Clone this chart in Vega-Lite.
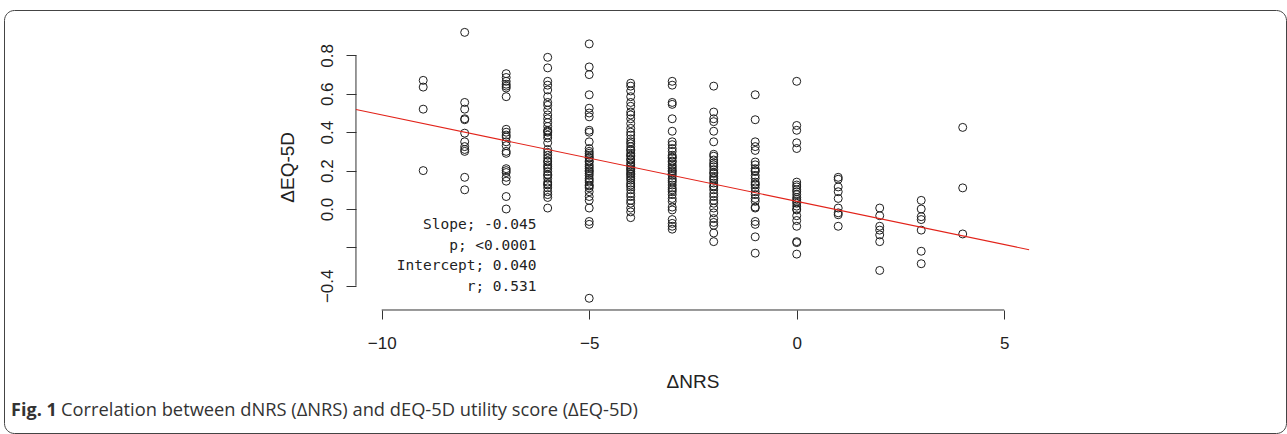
{
"$schema": "https://vega.github.io/schema/vega-lite/v6.json",
"width": 1282, "height": 423,
"autosize": {"type": "none"},
"padding": {"left": 4, "top": 10, "right": 1, "bottom": 1},
"background": "white",
"config": {"view": {"stroke": "#444", "strokeWidth": 1, "cornerRadius": 10}},
"layer": [
{
"data": {"values": [
{"dNRS":-9,"dEQ5D":0.67},{"dNRS":-9,"dEQ5D":0.635},{"dNRS":-9,"dEQ5D":0.52},{"dNRS":-9,"dEQ5D":0.2},
{"dNRS":-8,"dEQ5D":0.92},{"dNRS":-8,"dEQ5D":0.555},{"dNRS":-8,"dEQ5D":0.52},{"dNRS":-8,"dEQ5D":0.47},{"dNRS":-8,"dEQ5D":0.465},{"dNRS":-8,"dEQ5D":0.395},{"dNRS":-8,"dEQ5D":0.35},{"dNRS":-8,"dEQ5D":0.325},{"dNRS":-8,"dEQ5D":0.31},{"dNRS":-8,"dEQ5D":0.30},{"dNRS":-8,"dEQ5D":0.165},{"dNRS":-8,"dEQ5D":0.10},
{"dNRS":-7,"dEQ5D":0.705},{"dNRS":-7,"dEQ5D":0.685},{"dNRS":-7,"dEQ5D":0.665},{"dNRS":-7,"dEQ5D":0.65},{"dNRS":-7,"dEQ5D":0.64},{"dNRS":-7,"dEQ5D":0.63},{"dNRS":-7,"dEQ5D":0.585},{"dNRS":-7,"dEQ5D":0.415},{"dNRS":-7,"dEQ5D":0.40},{"dNRS":-7,"dEQ5D":0.385},{"dNRS":-7,"dEQ5D":0.375},{"dNRS":-7,"dEQ5D":0.35},{"dNRS":-7,"dEQ5D":0.33},{"dNRS":-7,"dEQ5D":0.30},{"dNRS":-7,"dEQ5D":0.29},{"dNRS":-7,"dEQ5D":0.21},{"dNRS":-7,"dEQ5D":0.20},{"dNRS":-7,"dEQ5D":0.19},{"dNRS":-7,"dEQ5D":0.165},{"dNRS":-7,"dEQ5D":0.145},{"dNRS":-7,"dEQ5D":0.065},{"dNRS":-7,"dEQ5D":0.0},
{"dNRS":-6,"dEQ5D":0.79},{"dNRS":-6,"dEQ5D":0.735},{"dNRS":-6,"dEQ5D":0.665},{"dNRS":-6,"dEQ5D":0.645},{"dNRS":-6,"dEQ5D":0.62},{"dNRS":-6,"dEQ5D":0.585},{"dNRS":-6,"dEQ5D":0.555},{"dNRS":-6,"dEQ5D":0.54},{"dNRS":-6,"dEQ5D":0.515},{"dNRS":-6,"dEQ5D":0.49},{"dNRS":-6,"dEQ5D":0.47},{"dNRS":-6,"dEQ5D":0.45},{"dNRS":-6,"dEQ5D":0.43},{"dNRS":-6,"dEQ5D":0.41},{"dNRS":-6,"dEQ5D":0.40},{"dNRS":-6,"dEQ5D":0.385},{"dNRS":-6,"dEQ5D":0.37},{"dNRS":-6,"dEQ5D":0.345},{"dNRS":-6,"dEQ5D":0.31},{"dNRS":-6,"dEQ5D":0.295},{"dNRS":-6,"dEQ5D":0.28},{"dNRS":-6,"dEQ5D":0.265},{"dNRS":-6,"dEQ5D":0.245},{"dNRS":-6,"dEQ5D":0.23},{"dNRS":-6,"dEQ5D":0.21},{"dNRS":-6,"dEQ5D":0.195},{"dNRS":-6,"dEQ5D":0.175},{"dNRS":-6,"dEQ5D":0.16},{"dNRS":-6,"dEQ5D":0.14},{"dNRS":-6,"dEQ5D":0.125},{"dNRS":-6,"dEQ5D":0.11},{"dNRS":-6,"dEQ5D":0.09},{"dNRS":-6,"dEQ5D":0.075},{"dNRS":-6,"dEQ5D":0.06},{"dNRS":-6,"dEQ5D":0.005},{"dNRS":-6,"dEQ5D":0.405},{"dNRS":-6,"dEQ5D":0.25},{"dNRS":-6,"dEQ5D":0.22},{"dNRS":-6,"dEQ5D":0.18},{"dNRS":-6,"dEQ5D":0.13},
{"dNRS":-5,"dEQ5D":0.86},{"dNRS":-5,"dEQ5D":0.74},{"dNRS":-5,"dEQ5D":0.70},{"dNRS":-5,"dEQ5D":0.595},{"dNRS":-5,"dEQ5D":0.525},{"dNRS":-5,"dEQ5D":0.50},{"dNRS":-5,"dEQ5D":0.48},{"dNRS":-5,"dEQ5D":0.41},{"dNRS":-5,"dEQ5D":0.40},{"dNRS":-5,"dEQ5D":0.35},{"dNRS":-5,"dEQ5D":0.315},{"dNRS":-5,"dEQ5D":0.30},{"dNRS":-5,"dEQ5D":0.28},{"dNRS":-5,"dEQ5D":0.265},{"dNRS":-5,"dEQ5D":0.245},{"dNRS":-5,"dEQ5D":0.23},{"dNRS":-5,"dEQ5D":0.21},{"dNRS":-5,"dEQ5D":0.195},{"dNRS":-5,"dEQ5D":0.175},{"dNRS":-5,"dEQ5D":0.16},{"dNRS":-5,"dEQ5D":0.14},{"dNRS":-5,"dEQ5D":0.125},{"dNRS":-5,"dEQ5D":0.11},{"dNRS":-5,"dEQ5D":0.09},{"dNRS":-5,"dEQ5D":0.065},{"dNRS":-5,"dEQ5D":0.045},{"dNRS":-5,"dEQ5D":0.005},{"dNRS":-5,"dEQ5D":-0.065},{"dNRS":-5,"dEQ5D":-0.08},{"dNRS":-5,"dEQ5D":-0.465},{"dNRS":-5,"dEQ5D":0.25},{"dNRS":-5,"dEQ5D":0.22},{"dNRS":-5,"dEQ5D":0.2},{"dNRS":-5,"dEQ5D":0.27},{"dNRS":-5,"dEQ5D":0.15},{"dNRS":-5,"dEQ5D":0.12},{"dNRS":-5,"dEQ5D":0.29},{"dNRS":-5,"dEQ5D":0.185},
{"dNRS":-4,"dEQ5D":0.655},{"dNRS":-4,"dEQ5D":0.64},{"dNRS":-4,"dEQ5D":0.615},{"dNRS":-4,"dEQ5D":0.585},{"dNRS":-4,"dEQ5D":0.555},{"dNRS":-4,"dEQ5D":0.535},{"dNRS":-4,"dEQ5D":0.505},{"dNRS":-4,"dEQ5D":0.49},{"dNRS":-4,"dEQ5D":0.47},{"dNRS":-4,"dEQ5D":0.445},{"dNRS":-4,"dEQ5D":0.42},{"dNRS":-4,"dEQ5D":0.40},{"dNRS":-4,"dEQ5D":0.385},{"dNRS":-4,"dEQ5D":0.365},{"dNRS":-4,"dEQ5D":0.34},{"dNRS":-4,"dEQ5D":0.325},{"dNRS":-4,"dEQ5D":0.305},{"dNRS":-4,"dEQ5D":0.29},{"dNRS":-4,"dEQ5D":0.275},{"dNRS":-4,"dEQ5D":0.255},{"dNRS":-4,"dEQ5D":0.24},{"dNRS":-4,"dEQ5D":0.22},{"dNRS":-4,"dEQ5D":0.205},{"dNRS":-4,"dEQ5D":0.185},{"dNRS":-4,"dEQ5D":0.17},{"dNRS":-4,"dEQ5D":0.15},{"dNRS":-4,"dEQ5D":0.135},{"dNRS":-4,"dEQ5D":0.115},{"dNRS":-4,"dEQ5D":0.10},{"dNRS":-4,"dEQ5D":0.08},{"dNRS":-4,"dEQ5D":0.065},{"dNRS":-4,"dEQ5D":0.045},{"dNRS":-4,"dEQ5D":0.03},{"dNRS":-4,"dEQ5D":0.005},{"dNRS":-4,"dEQ5D":-0.015},{"dNRS":-4,"dEQ5D":-0.045},{"dNRS":-4,"dEQ5D":0.26},{"dNRS":-4,"dEQ5D":0.23},{"dNRS":-4,"dEQ5D":0.21},{"dNRS":-4,"dEQ5D":0.195},{"dNRS":-4,"dEQ5D":0.18},{"dNRS":-4,"dEQ5D":0.16},{"dNRS":-4,"dEQ5D":0.31},{"dNRS":-4,"dEQ5D":0.28},{"dNRS":-4,"dEQ5D":0.35},{"dNRS":-4,"dEQ5D":0.125},
{"dNRS":-3,"dEQ5D":0.665},{"dNRS":-3,"dEQ5D":0.645},{"dNRS":-3,"dEQ5D":0.555},{"dNRS":-3,"dEQ5D":0.545},{"dNRS":-3,"dEQ5D":0.47},{"dNRS":-3,"dEQ5D":0.405},{"dNRS":-3,"dEQ5D":0.35},{"dNRS":-3,"dEQ5D":0.335},{"dNRS":-3,"dEQ5D":0.315},{"dNRS":-3,"dEQ5D":0.30},{"dNRS":-3,"dEQ5D":0.28},{"dNRS":-3,"dEQ5D":0.265},{"dNRS":-3,"dEQ5D":0.245},{"dNRS":-3,"dEQ5D":0.23},{"dNRS":-3,"dEQ5D":0.21},{"dNRS":-3,"dEQ5D":0.195},{"dNRS":-3,"dEQ5D":0.175},{"dNRS":-3,"dEQ5D":0.16},{"dNRS":-3,"dEQ5D":0.14},{"dNRS":-3,"dEQ5D":0.125},{"dNRS":-3,"dEQ5D":0.11},{"dNRS":-3,"dEQ5D":0.09},{"dNRS":-3,"dEQ5D":0.075},{"dNRS":-3,"dEQ5D":0.055},{"dNRS":-3,"dEQ5D":0.04},{"dNRS":-3,"dEQ5D":0.01},{"dNRS":-3,"dEQ5D":-0.005},{"dNRS":-3,"dEQ5D":-0.055},{"dNRS":-3,"dEQ5D":-0.075},{"dNRS":-3,"dEQ5D":-0.09},{"dNRS":-3,"dEQ5D":-0.105},{"dNRS":-3,"dEQ5D":0.25},{"dNRS":-3,"dEQ5D":0.22},{"dNRS":-3,"dEQ5D":0.185},{"dNRS":-3,"dEQ5D":0.15},{"dNRS":-3,"dEQ5D":0.2},{"dNRS":-3,"dEQ5D":0.1},{"dNRS":-3,"dEQ5D":0.27},
{"dNRS":-2,"dEQ5D":0.64},{"dNRS":-2,"dEQ5D":0.505},{"dNRS":-2,"dEQ5D":0.47},{"dNRS":-2,"dEQ5D":0.455},{"dNRS":-2,"dEQ5D":0.405},{"dNRS":-2,"dEQ5D":0.35},{"dNRS":-2,"dEQ5D":0.285},{"dNRS":-2,"dEQ5D":0.275},{"dNRS":-2,"dEQ5D":0.255},{"dNRS":-2,"dEQ5D":0.24},{"dNRS":-2,"dEQ5D":0.22},{"dNRS":-2,"dEQ5D":0.205},{"dNRS":-2,"dEQ5D":0.185},{"dNRS":-2,"dEQ5D":0.17},{"dNRS":-2,"dEQ5D":0.15},{"dNRS":-2,"dEQ5D":0.135},{"dNRS":-2,"dEQ5D":0.115},{"dNRS":-2,"dEQ5D":0.10},{"dNRS":-2,"dEQ5D":0.08},{"dNRS":-2,"dEQ5D":0.065},{"dNRS":-2,"dEQ5D":0.045},{"dNRS":-2,"dEQ5D":0.03},{"dNRS":-2,"dEQ5D":0.005},{"dNRS":-2,"dEQ5D":-0.02},{"dNRS":-2,"dEQ5D":-0.05},{"dNRS":-2,"dEQ5D":-0.07},{"dNRS":-2,"dEQ5D":-0.085},{"dNRS":-2,"dEQ5D":-0.125},{"dNRS":-2,"dEQ5D":-0.17},{"dNRS":-2,"dEQ5D":0.23},{"dNRS":-2,"dEQ5D":0.19},{"dNRS":-2,"dEQ5D":0.16},{"dNRS":-2,"dEQ5D":0.12},
{"dNRS":-1,"dEQ5D":0.595},{"dNRS":-1,"dEQ5D":0.465},{"dNRS":-1,"dEQ5D":0.35},{"dNRS":-1,"dEQ5D":0.325},{"dNRS":-1,"dEQ5D":0.305},{"dNRS":-1,"dEQ5D":0.245},{"dNRS":-1,"dEQ5D":0.23},{"dNRS":-1,"dEQ5D":0.21},{"dNRS":-1,"dEQ5D":0.195},{"dNRS":-1,"dEQ5D":0.175},{"dNRS":-1,"dEQ5D":0.16},{"dNRS":-1,"dEQ5D":0.14},{"dNRS":-1,"dEQ5D":0.125},{"dNRS":-1,"dEQ5D":0.11},{"dNRS":-1,"dEQ5D":0.09},{"dNRS":-1,"dEQ5D":0.075},{"dNRS":-1,"dEQ5D":0.055},{"dNRS":-1,"dEQ5D":0.04},{"dNRS":-1,"dEQ5D":0.01},{"dNRS":-1,"dEQ5D":0.005},{"dNRS":-1,"dEQ5D":-0.065},{"dNRS":-1,"dEQ5D":-0.08},{"dNRS":-1,"dEQ5D":-0.145},{"dNRS":-1,"dEQ5D":-0.23},{"dNRS":-1,"dEQ5D":0.2},{"dNRS":-1,"dEQ5D":0.13},
{"dNRS":0,"dEQ5D":0.665},{"dNRS":0,"dEQ5D":0.435},{"dNRS":0,"dEQ5D":0.41},{"dNRS":0,"dEQ5D":0.345},{"dNRS":0,"dEQ5D":0.315},{"dNRS":0,"dEQ5D":0.14},{"dNRS":0,"dEQ5D":0.125},{"dNRS":0,"dEQ5D":0.115},{"dNRS":0,"dEQ5D":0.10},{"dNRS":0,"dEQ5D":0.09},{"dNRS":0,"dEQ5D":0.075},{"dNRS":0,"dEQ5D":0.06},{"dNRS":0,"dEQ5D":0.05},{"dNRS":0,"dEQ5D":0.04},{"dNRS":0,"dEQ5D":0.03},{"dNRS":0,"dEQ5D":0.015},{"dNRS":0,"dEQ5D":0.0},{"dNRS":0,"dEQ5D":-0.005},{"dNRS":0,"dEQ5D":-0.035},{"dNRS":0,"dEQ5D":-0.06},{"dNRS":0,"dEQ5D":-0.09},{"dNRS":0,"dEQ5D":-0.17},{"dNRS":0,"dEQ5D":-0.175},{"dNRS":0,"dEQ5D":-0.235},
{"dNRS":1,"dEQ5D":0.165},{"dNRS":1,"dEQ5D":0.155},{"dNRS":1,"dEQ5D":0.115},{"dNRS":1,"dEQ5D":0.09},{"dNRS":1,"dEQ5D":0.055},{"dNRS":1,"dEQ5D":0.005},{"dNRS":1,"dEQ5D":-0.02},{"dNRS":1,"dEQ5D":-0.03},{"dNRS":1,"dEQ5D":-0.09},
{"dNRS":2,"dEQ5D":0.005},{"dNRS":2,"dEQ5D":-0.035},{"dNRS":2,"dEQ5D":-0.09},{"dNRS":2,"dEQ5D":-0.11},{"dNRS":2,"dEQ5D":-0.135},{"dNRS":2,"dEQ5D":-0.17},{"dNRS":2,"dEQ5D":-0.32},
{"dNRS":3,"dEQ5D":0.045},{"dNRS":3,"dEQ5D":0.0},{"dNRS":3,"dEQ5D":-0.04},{"dNRS":3,"dEQ5D":-0.055},{"dNRS":3,"dEQ5D":-0.11},{"dNRS":3,"dEQ5D":-0.22},{"dNRS":3,"dEQ5D":-0.285},
{"dNRS":4,"dEQ5D":0.425},{"dNRS":4,"dEQ5D":0.11},{"dNRS":4,"dEQ5D":-0.13}
]},
"mark": {"type": "point", "shape": "circle", "filled": false, "size": 64, "stroke": "#1e1e1e", "strokeWidth": 1, "opacity": 1},
"encoding": {
"x": {"field": "dNRS", "type": "quantitative",
"scale": {"domain": [-19.101, 11.79], "nice": false, "zero": false},
"axis": {"values": [-10, -5, 0, 5], "offset": -123, "domain": false, "grid": false, "tickSize": 9, "tickColor": "#333", "tickWidth": 1,
"labelFont": "Liberation Sans Narrow, Liberation Sans", "labelFontSize": 17, "labelColor": "#222", "labelBaseline": "alphabetic", "labelPadding": 29, "labelFlush": false, "labelOverlap": false, "format": "d",
"title": "ΔNRS", "titleFont": "Liberation Sans Narrow, Liberation Sans", "titleFontSize": 19, "titleFontWeight": "normal", "titleColor": "#222", "titleBaseline": "alphabetic", "titleAlign": "center", "titleX": 688.5, "titleY": 77.5}},
"y": {"field": "dEQ5D", "type": "quantitative",
"scale": {"domain": [-1.1667, 1.0365], "nice": false, "zero": false},
"axis": {"values": [-0.4, -0.2, 0, 0.2, 0.4, 0.6, 0.8], "offset": -352, "domain": false, "grid": false, "tickSize": 10, "tickColor": "#333", "tickWidth": 1,
"labelFont": "Liberation Sans Narrow, Liberation Sans", "labelFontSize": 17, "labelColor": "#222", "labelAngle": -90, "labelAlign": "center", "labelBaseline": "alphabetic", "labelPadding": 14, "labelFlush": false, "labelOverlap": false,
"labelExpr": "(datum.value > -0.3 && datum.value < -0.1) ? '' : format(datum.value, '.1f')",
"title": "ΔEQ-5D", "titleFont": "Liberation Sans Narrow, Liberation Sans", "titleFontSize": 19, "titleFontWeight": "normal", "titleColor": "#222", "titleAngle": -90, "titleBaseline": "alphabetic", "titleAlign": "center", "titleX": -62.5, "titleY": 156.8}}
}
},
{
"data": {"values": [{}]},
"mark": {"type": "rule", "color": "#333", "strokeWidth": 1},
"encoding": {"x": {"datum": -10}, "x2": {"datum": 5}, "y": {"datum": -0.526}}
},
{
"data": {"values": [{}]},
"mark": {"type": "rule", "color": "#333", "strokeWidth": 1},
"encoding": {"x": {"datum": -10.62}, "y": {"datum": -0.4}, "y2": {"datum": 0.8}}
},
{
"data": {"values": [{}]},
"mark": {"type": "rule", "color": "#e2231a", "strokeWidth": 1.1},
"encoding": {"x": {"datum": -10.62}, "x2": {"datum": 5.6}, "y": {"datum": 0.518}, "y2": {"datum": -0.212}}
},
{
"data": {"values": [{}]},
"mark": {"type": "text", "text": ["Slope; -0.045", "p; <0.0001", "Intercept; 0.040", "r; 0.531"], "align": "right", "baseline": "middle", "lineHeight": 20.7, "font": "DejaVu Sans Mono", "fontSize": 14.5, "color": "#222"},
"encoding": {"x": {"datum": -6.27}, "y": {"datum": -0.0833}}
},
{
"data": {"values": [{}]},
"mark": {"type": "text", "text": "Fig. 1", "align": "left", "baseline": "alphabetic", "font": "Open Sans", "fontSize": 18, "fontWeight": "bold", "color": "#333"},
"encoding": {"x": {"datum": -18.93}, "y": {"datum": -1.078}}
},
{
"data": {"values": [{}]},
"mark": {"type": "text", "text": "Correlation between dNRS (ΔNRS) and dEQ-5D utility score (ΔEQ-5D)", "align": "left", "baseline": "alphabetic", "font": "Open Sans", "fontSize": 18.3, "fontWeight": "normal", "color": "#333", "dx": 50},
"encoding": {"x": {"datum": -18.93}, "y": {"datum": -1.078}}
}
]
}
